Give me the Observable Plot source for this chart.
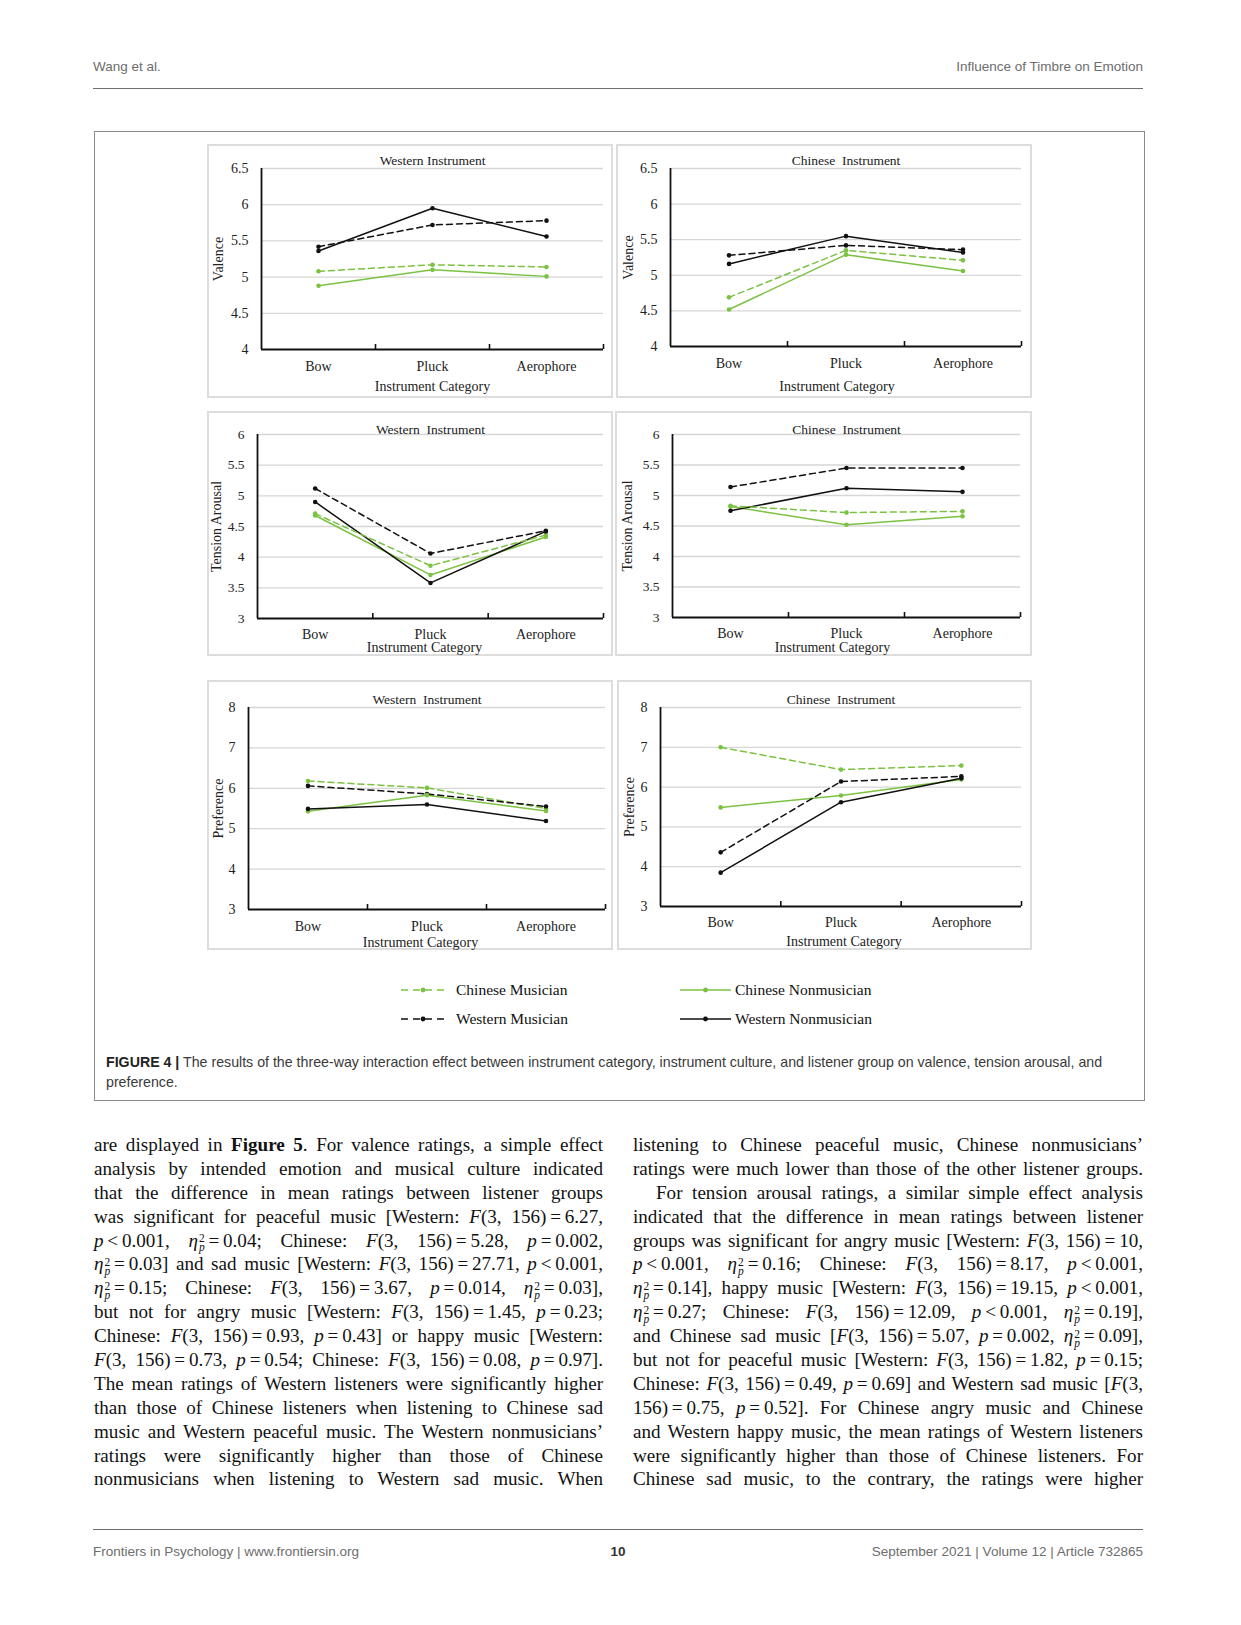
<!DOCTYPE html>
<html>
<head>
<meta charset="utf-8">
<script src="https://cdn.jsdelivr.net/npm/d3@7"></script>
<script src="https://cdn.jsdelivr.net/npm/@observablehq/plot@0.6"></script>
<style>
  body { margin: 0; background: #fff; }
  #page { position: relative; width: 1241px; height: 1625px; overflow: hidden; background: #fff; }
  .abs { position: absolute; }
  .sans { font-family: "Liberation Sans", Arial, sans-serif; }
  .hdr { font-size: 13.5px; color: #6d6d6d; line-height: 18px; white-space: nowrap; }
  .rule { height: 0; border-top: 1px solid #6f6f6f; }
  .pbox { position: absolute; border: 2px solid #dddddd; box-sizing: border-box; }
  .leg { font-family: "Liberation Serif", serif; font-size: 15.5px; color: #111; white-space: nowrap; line-height: 18px; }
  .cap { font-size: 14.2px; color: #3a3a3a; line-height: 19.6px; white-space: nowrap; }
  .col { position: absolute; font-family: "Liberation Serif", serif; font-size: 19.1px; color: #111; }
  .ln { height: 23.9px; line-height: 23.9px; white-space: nowrap; text-align: justify; text-align-last: justify; }
  .eta { white-space: nowrap; }
  .ss { display: inline-block; font-size: 0.6em; line-height: 0.8em; vertical-align: -0.42em; text-align: left; margin-left: 1px; }
  .ss span { display: block; }
</style>
</head>
<body>
<div id="page"></div>
<script>
// ---------------- data ----------------
const categories = ["Bow", "Pluck", "Aerophore"];
const seriesNames = ["Chinese Musician", "Western Musician", "Chinese Nonmusician", "Western Nonmusician"];
const seriesColors = ["#7cc242", "#111111", "#7cc242", "#111111"];
const xAxisTitle = "Instrument Category";

// rows follow seriesNames order; columns follow categories
const valenceWestern = [
  [5.08, 5.17, 5.14],
  [5.42, 5.72, 5.78],
  [4.88, 5.10, 5.01],
  [5.36, 5.95, 5.56]
];
const valenceChinese = [
  [4.69, 5.35, 5.21],
  [5.28, 5.42, 5.36],
  [4.52, 5.29, 5.06],
  [5.16, 5.55, 5.32]
];
const tensionWestern = [
  [4.71, 3.86, 4.36],
  [5.12, 4.06, 4.43],
  [4.68, 3.71, 4.33],
  [4.90, 3.58, 4.42]
];
const tensionChinese = [
  [4.83, 4.72, 4.74],
  [5.14, 5.45, 5.45],
  [4.82, 4.52, 4.66],
  [4.75, 5.12, 5.06]
];
const preferenceWestern = [
  [6.18, 6.01, 5.50],
  [6.06, 5.86, 5.55],
  [5.43, 5.83, 5.44],
  [5.49, 5.60, 5.19]
];
const preferenceChinese = [
  [7.00, 6.44, 6.54],
  [4.36, 6.14, 6.27],
  [5.49, 5.79, 6.19],
  [3.85, 5.62, 6.22]
];
const valenceTicks = [4, 4.5, 5, 5.5, 6, 6.5];
const tensionTicks = [3, 3.5, 4, 4.5, 5, 5.5, 6];
const preferenceTicks = [3, 4, 5, 6, 7, 8];

const page = document.getElementById("page");
function add(html) { page.insertAdjacentHTML("beforeend", html); }

// ---------------- page furniture ----------------
add(`<div class="abs sans hdr" style="left:93px;top:58px;">Wang et al.</div>`);
add(`<div class="abs sans hdr" style="right:98px;top:58px;">Influence of Timbre on Emotion</div>`);
add(`<div class="abs rule" style="left:93px;top:88px;width:1050px;"></div>`);
add(`<div class="abs" style="left:94px;top:131px;width:1051px;height:970px;border:1px solid #8a8a8a;box-sizing:border-box;"></div>`);

// ---------------- panels ----------------
function panel(cfg) {
  const { vals, ticks, title, ylabel, box, plot, titleDy, ylabDx, catDy, xlabDy, xlabDx, tickFont } = cfg;
  const [bx, by, bx2, by2] = box;
  const [pl, pt, pr, pb] = plot;
  const bw = bx2 - bx, bh = by2 - by;
  const yMin = ticks[0], yMax = ticks[ticks.length - 1];
  const plotH = pb - pt;
  const data = [];
  seriesNames.forEach((s, si) => categories.forEach((c, ci) => data.push({
    series: s, x: ci, y: vals[si][ci], musician: !/Nonmusician/.test(s)
  })));
  add(`<div class="pbox" style="left:${bx}px;top:${by}px;width:${bw}px;height:${bh}px;"></div>`);
  const svg = Plot.plot({
    width: bw, height: bh,
    marginLeft: pl - bx, marginRight: bx2 - pr, marginTop: pt - by, marginBottom: by2 - pb,
    x: { domain: [-0.5, 2.5], label: null },
    y: { domain: [yMin, yMax], label: null },
    color: { domain: seriesNames, range: seriesColors },
    style: { fontFamily: '"Liberation Serif", serif', fontSize: "14px", color: "#222", background: "transparent", overflow: "visible" },
    marks: [
      Plot.ruleY(ticks.slice(1), { stroke: "#d6d6d6", strokeWidth: 1.3 }),
      Plot.axisY({ ticks, tickSize: 0, tickPadding: 13, tickFormat: d => String(d), label: null, fontSize: tickFont }),
      Plot.axisX({ ticks: [], tickSize: 0, label: null }),
      Plot.text(categories, { x: (d, i) => i, frameAnchor: "bottom", lineAnchor: "middle", dy: catDy, fontSize: 14 }),
      Plot.ruleX([0.5, 1.5, 2.5], { y1: yMin, y2: yMin + 5 / plotH * (yMax - yMin), stroke: "#111", strokeWidth: 1.6 }),
      Plot.ruleY([yMin], { stroke: "#111", strokeWidth: 1.8 }),
      Plot.ruleX([-0.5], { stroke: "#111", strokeWidth: 1.8 }),
      Plot.line(data.filter(d => !d.musician), { x: "x", y: "y", z: "series", stroke: "series", strokeWidth: 1.5 }),
      Plot.line(data.filter(d => d.musician), { x: "x", y: "y", z: "series", stroke: "series", strokeWidth: 1.5, strokeDasharray: "6,4" }),
      Plot.dot(data, { x: "x", y: "y", fill: "series", r: 2.3 }),
      Plot.text([title], { frameAnchor: "top", lineAnchor: "middle", textAnchor: "middle", dy: titleDy, fontSize: 13.5 }),
      Plot.text([ylabel], { frameAnchor: "left", textAnchor: "middle", lineAnchor: "middle", rotate: -90, dx: ylabDx, fontSize: 14 }),
      Plot.text([xAxisTitle], { frameAnchor: "bottom", lineAnchor: "middle", textAnchor: "middle", dy: xlabDy, dx: xlabDx, fontSize: 14 })
    ]
  });
  svg.style.position = "absolute";
  svg.style.left = bx + "px";
  svg.style.top = by + "px";
  page.appendChild(svg);
}

panel({ vals: valenceWestern, ticks: valenceTicks, title: "Western Instrument", ylabel: "Valence", tickFont: 14,
  box: [207, 144, 613, 398], plot: [261, 168, 603, 349], titleDy: -8, ylabDx: -43, catDy: 17, xlabDy: 37, xlabDx: 0 });
panel({ vals: valenceChinese, ticks: valenceTicks, title: "Chinese\u00a0 Instrument", ylabel: "Valence", tickFont: 14,
  box: [616, 144, 1032, 398], plot: [670, 168, 1021, 346], titleDy: -7.5, ylabDx: -42, catDy: 17, xlabDy: 40, xlabDx: -9 });
panel({ vals: tensionWestern, ticks: tensionTicks, title: "Western\u00a0 Instrument", ylabel: "Tension Arousal", tickFont: 13.5,
  box: [207, 411, 613, 656], plot: [257, 434, 603, 618], titleDy: -4.5, ylabDx: -41, catDy: 16.5, xlabDy: 29.5, xlabDx: -6 });
panel({ vals: tensionChinese, ticks: tensionTicks, title: "Chinese\u00a0 Instrument", ylabel: "Tension Arousal", tickFont: 13.5,
  box: [615, 411, 1032, 656], plot: [672, 434, 1020, 617], titleDy: -4.5, ylabDx: -45, catDy: 16.5, xlabDy: 30.5, xlabDx: -14 });
panel({ vals: preferenceWestern, ticks: preferenceTicks, title: "Western\u00a0 Instrument", ylabel: "Preference", tickFont: 14,
  box: [207, 680, 613, 950], plot: [248, 707, 605, 909], titleDy: -8, ylabDx: -30, catDy: 17, xlabDy: 33, xlabDx: -6.5 });
panel({ vals: preferenceChinese, ticks: preferenceTicks, title: "Chinese\u00a0 Instrument", ylabel: "Preference", tickFont: 14,
  box: [617, 680, 1032, 950], plot: [660, 707, 1021, 906], titleDy: -8, ylabDx: -31, catDy: 16.5, xlabDy: 35, xlabDx: 3 });

// ---------------- legend ----------------
function legendItem(name, color, dashed, x1, x2, tx, cy) {
  const w = x2 - x1;
  add(`<svg class="abs" style="left:${x1}px;top:${cy - 5}px;" width="${w}" height="10">
    <line x1="0" y1="5" x2="${w}" y2="5" stroke="${color}" stroke-width="1.6" ${dashed ? 'stroke-dasharray="7,5"' : ''}/>
    <circle cx="${w / 2}" cy="5" r="2.4" fill="${color}"/></svg>`);
  add(`<div class="abs leg" style="left:${tx}px;top:${cy - 9.5}px;">${name}</div>`);
}
legendItem(seriesNames[0], seriesColors[0], true, 401, 445, 456, 990);
legendItem(seriesNames[2], seriesColors[2], false, 680, 731, 735, 990);
legendItem(seriesNames[1], seriesColors[1], true, 401, 445, 456, 1019);
legendItem(seriesNames[3], seriesColors[3], false, 680, 731, 735, 1019);

// ---------------- caption ----------------
add(`<div class="abs sans cap" style="left:106px;top:1053px;"><b style="color:#222">FIGURE 4 |</b> The results of the three-way interaction effect between instrument category, instrument culture, and listener group on valence, tension arousal, and<br>preference.</div>`);

// ---------------- body text ----------------
const ETA = '<span class="eta"><i>η</i><span class="ss"><span>2</span><span><i>p</i></span></span></span>';
function fmt(s) {
  return s
    .replace(/\s*=\s*/g, "\u2009=\u2009")
    .replace(/\s*<\s*/g, "\u2009&lt;\u2009")
    .replace(/\{F\}/g, "<i>F</i>")
    .replace(/\{p\}/g, "<i>p</i>")
    .replace(/\{E\}/g, ETA)
    .replace(/\{b:([^}]*)\}/g, "<b>$1</b>");
}
const col1 = [
  "are displayed in {b:Figure 5}. For valence ratings, a simple effect",
  "analysis by intended emotion and musical culture indicated",
  "that the difference in mean ratings between listener groups",
  "was significant for peaceful music [Western: {F}(3, 156) = 6.27,",
  "{p} < 0.001, {E} = 0.04; Chinese: {F}(3, 156) = 5.28, {p} = 0.002,",
  "{E} = 0.03] and sad music [Western: {F}(3, 156) = 27.71, {p} < 0.001,",
  "{E} = 0.15; Chinese: {F}(3, 156) = 3.67, {p} = 0.014, {E} = 0.03],",
  "but not for angry music [Western: {F}(3, 156) = 1.45, {p} = 0.23;",
  "Chinese: {F}(3, 156) = 0.93, {p} = 0.43] or happy music [Western:",
  "{F}(3, 156) = 0.73, {p} = 0.54; Chinese: {F}(3, 156) = 0.08, {p} = 0.97].",
  "The mean ratings of Western listeners were significantly higher",
  "than those of Chinese listeners when listening to Chinese sad",
  "music and Western peaceful music. The Western nonmusicians’",
  "ratings were significantly higher than those of Chinese",
  "nonmusicians when listening to Western sad music. When"
];
const col2 = [
  "listening to Chinese peaceful music, Chinese nonmusicians’",
  "ratings were much lower than those of the other listener groups.",
  "For tension arousal ratings, a similar simple effect analysis",
  "indicated that the difference in mean ratings between listener",
  "groups was significant for angry music [Western: {F}(3, 156) = 10,",
  "{p} < 0.001, {E} = 0.16; Chinese: {F}(3, 156) = 8.17, {p} < 0.001,",
  "{E} = 0.14], happy music [Western: {F}(3, 156) = 19.15, {p} < 0.001,",
  "{E} = 0.27; Chinese: {F}(3, 156) = 12.09, {p} < 0.001, {E} = 0.19],",
  "and Chinese sad music [{F}(3, 156) = 5.07, {p} = 0.002, {E} = 0.09],",
  "but not for peaceful music [Western: {F}(3, 156) = 1.82, {p} = 0.15;",
  "Chinese: {F}(3, 156) = 0.49, {p} = 0.69] and Western sad music [{F}(3,",
  "156) = 0.75, {p} = 0.52]. For Chinese angry music and Chinese",
  "and Western happy music, the mean ratings of Western listeners",
  "were significantly higher than those of Chinese listeners. For",
  "Chinese sad music, to the contrary, the ratings were higher"
];
add(`<div class="col" style="left:94px;top:1133px;width:509px;">${col1.map(l => `<div class="ln">${fmt(l)}</div>`).join("")}</div>`);
add(`<div class="col" style="left:633px;top:1133px;width:510px;">${col2.map((l, i) => `<div class="ln" style="${i === 2 ? 'padding-left:23px;' : ''}">${fmt(l)}</div>`).join("")}</div>`);

// ---------------- footer ----------------
add(`<div class="abs rule" style="left:93px;top:1529px;width:1050px;"></div>`);
add(`<div class="abs sans hdr" style="left:93px;top:1543px;">Frontiers in Psychology | www.frontiersin.org</div>`);
add(`<div class="abs sans hdr" style="left:600px;width:36px;text-align:center;top:1543px;color:#333;font-weight:bold;">10</div>`);
add(`<div class="abs sans hdr" style="right:98px;top:1543px;">September 2021 | Volume 12 | Article 732865</div>`);
</script>
</body>
</html>
